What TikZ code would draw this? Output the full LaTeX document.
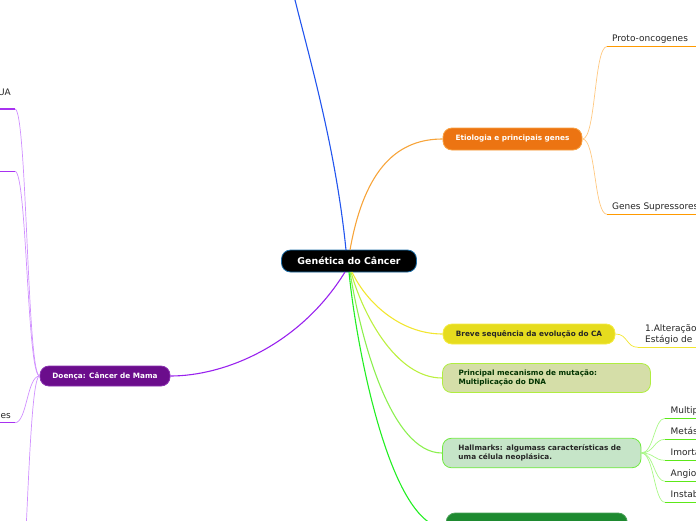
\documentclass[tikz,border=0pt]{standalone}
\usepackage{fontspec}
\setmainfont{DejaVu Sans}
\definecolor{rootedge}{HTML}{1F6FA8}
\definecolor{bluelink}{HTML}{2255EE}
\definecolor{orangefill}{HTML}{EC7412}
\definecolor{orangeedge}{HTML}{F8A040}
\definecolor{orangelink}{HTML}{F7A43A}
\definecolor{orangesub}{HTML}{FFC880}
\definecolor{orangeline}{HTML}{FF9A00}
\definecolor{yellowfill}{HTML}{E6DC1E}
\definecolor{yellowedge}{HTML}{F5EC40}
\definecolor{yellowlink}{HTML}{F2E630}
\definecolor{limefill}{HTML}{D5DEA8}
\definecolor{limeedge}{HTML}{B0EE40}
\definecolor{limelink}{HTML}{BCF040}
\definecolor{mintfill}{HTML}{C6E5C8}
\definecolor{mintedge}{HTML}{70EA40}
\definecolor{mintlink}{HTML}{8CF050}
\definecolor{mintsub}{HTML}{AAF888}
\definecolor{mintline}{HTML}{5CE818}
\definecolor{greenlink}{HTML}{22EE22}
\definecolor{greenfill}{HTML}{1E8A30}
\definecolor{purplefill}{HTML}{6B0D8C}
\definecolor{purpleedge}{HTML}{8A30B0}
\definecolor{purplelink}{HTML}{9922EE}
\definecolor{purplesub}{HTML}{D090FF}
\definecolor{purpleline}{HTML}{A832F0}
\definecolor{leaftext}{HTML}{262626}
\begin{document}
\begin{tikzpicture}[x=1pt,y=-1pt,
  topic/.style={rounded corners=9pt,inner sep=0pt,line width=0.8pt,
    font=\fontsize{7.3}{9.6}\selectfont\bfseries},
  leaf/.style={anchor=base west,inner sep=0pt,text=leaftext,
    font=\fontsize{9}{10.4}\selectfont},
  link/.style={line width=1.1pt},
  sublink/.style={line width=0.7pt},
  uline/.style={line width=1.5pt}]
\useasboundingbox (0,0) rectangle (696,520);
\clip (0,0) rectangle (696,520);
\node[topic,fill=black,draw=rootedge,text=white,minimum width=135pt,minimum height=22pt,
  font=\fontsize{9.4}{11}\selectfont\bfseries] (root) at (349,261) {Genética do Câncer};
\node[topic,fill=orangefill,draw=orangeedge,text=white,minimum width=139pt,minimum height=22pt] (etio) at (512.5,139) {Etiologia e principais genes};
\node[topic,fill=yellowfill,draw=yellowedge,text=black!85,minimum width=172pt,minimum height=20pt] (breve) at (529,334) {Breve sequência da evolução do CA};
\node[topic,fill=limefill,draw=limeedge,text=green!20!black,minimum height=29pt,
  text width=176pt,inner xsep=16pt,align=left] (mecan) at (546.5,378) {Principal mecanismo de mutação:\\Multiplicação do DNA};
\node[topic,fill=mintfill,draw=mintedge,text=black!85,minimum height=29.5pt,
  text width=166.5pt,inner xsep=16pt,align=left] (hall) at (541.7,453) {\mbox{Hallmarks: algumass características de}\\uma célula neoplásica.};
\node[topic,fill=greenfill,draw=greenfill!80!white,minimum width=181pt,minimum height=30pt] (invasao) at (536.7,528) {};
\node[topic,fill=purplefill,draw=purpleedge,text=white,minimum width=130pt,minimum height=20pt] (mama) at (105,376) {Doença: Câncer de Mama};
\coordinate (topend) at (295,0);
\draw[link,bluelink] (346,250) .. controls (336,150) and (310,60) .. (topend);
\draw[link,orangelink] (350,250) .. controls (365,165) and (400,139) .. (etio.west);
\draw[link,yellowlink] (352,272) .. controls (366,302) and (400,334) .. (breve.west);
\draw[link,limelink] (351,272) .. controls (362,312) and (395,378) .. (mecan.west);
\draw[link,mintlink] (350,272) .. controls (360,335) and (390,453) .. (hall.west);
\draw[link,greenlink] (349,272) .. controls (356,345) and (390,528) .. (invasao.west);
\draw[link,purplelink] (345,272) .. controls (300,345) and (225,376) .. (mama.east);
\coordinate (protoL) at (607,46.5);
\coordinate (supL) at (607,214.3);
\node[leaf] (proto) at ([xshift=5pt,yshift=4.8pt]protoL) {Proto-oncogenes};
\node[leaf] (supressor) at ([xshift=5pt,yshift=4.8pt]supL) {Genes Supressores de Tumor};
\draw[sublink,orangesub] (etio.east) .. controls (596,139) and (594,46.5) .. (protoL);
\draw[sublink,orangesub] (etio.east) .. controls (596,139) and (594,214.3) .. (supL);
\draw[uline,orangeline] (protoL) -- ++(95,0);
\draw[uline,orangeline] (supL) -- ++(95,0);
\coordinate (faseL) at (638,347.3);
\node[leaf,align=left,anchor=south west] (fase) at ([xshift=7pt,yshift=3pt]faseL) {1.Alteração do DNA:\\Estágio de Iniciação};
\draw[sublink,yellowlink] (breve.east) .. controls (628,334) and (626,347.3) .. (faseL);
\draw[uline,yellowlink] (faseL) -- ++(65,0);
\foreach \y/\name/\txt in {418.3/mult/Multiplicação descontrolada,439.3/meta/Metástase,460.3/imort/Imortalidade,481.3/angio/Angiogênese,502.3/instab/Instabilidade genômica}{
  \coordinate (\name L) at (665,\y);
  \node[leaf] (\name) at ([xshift=5.5pt,yshift=4.8pt]\name L) {\txt};
  \draw[sublink,mintsub] (hall.east) .. controls (654,453) and (654,\y) .. (\name L);
  \draw[uline,mintline] (\name L) -- ++(40,0);
}
\coordinate (mamaA) at (15,109);
\coordinate (mamaB) at (15,171.3);
\coordinate (mamaC) at (15,422.7);
\coordinate (mamaD) at (15,640);
\node[leaf,anchor=base east] (mamaAtxt) at (11,95) {UA};
\node[leaf,anchor=base east] (mamaCtxt) at (11,418.3) {es};
\foreach \c/\ya/\yb in {mamaA/376/109,mamaB/376/171.3,mamaC/376/422.7,mamaD/376/640}{
  \draw[sublink,purplesub] (mama.west) .. controls (27,\ya) and (27,\yb) .. (\c);
}
\draw[uline,purpleline] (mamaA) -- ++(-20,0);
\draw[uline,purpleline] (mamaB) -- ++(-20,0);
\draw[uline,purpleline] (mamaC) -- ++(-20,0);
\end{tikzpicture}
\end{document}
